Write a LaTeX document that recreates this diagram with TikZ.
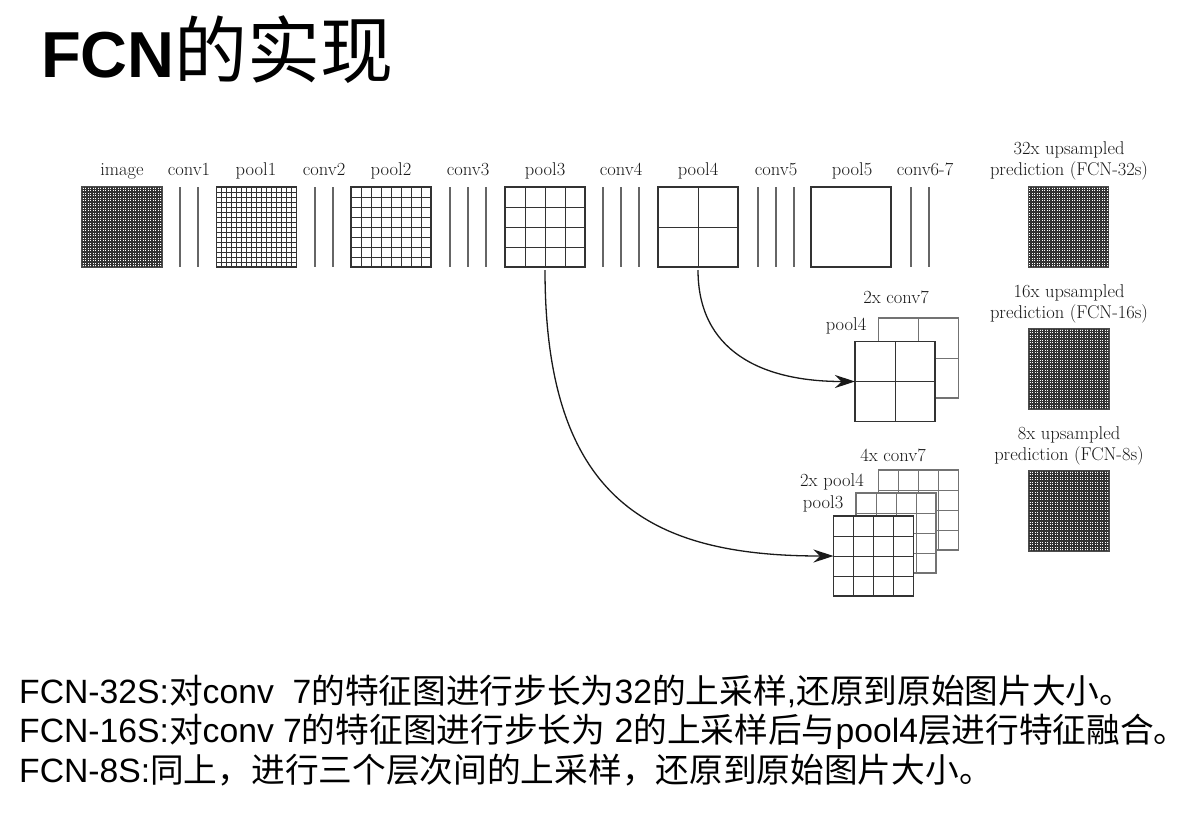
\documentclass[tikz,border=0pt]{standalone}
\usepackage{fontspec}
\newfontfamily\latn{Liberation Sans}
\newfontfamily\hanz{Noto Sans CJK SC}
\usetikzlibrary{calc,arrows.meta}
\newcommand\cells[3]{%
  \pgfmathtruncatemacro\cellsm{#2-1}%
  \foreach \k in {1,...,\cellsm}{%
    \draw[#3] ($(#1.north west)!\k/#2!(#1.north east)$) -- ($(#1.south west)!\k/#2!(#1.south east)$);
    \draw[#3] ($(#1.north west)!\k/#2!(#1.south west)$) -- ($(#1.north east)!\k/#2!(#1.south east)$);
  }}
\tikzset{
  fm/.style={draw=black!80, line width=1.2pt, fill=white, minimum size=80pt, inner sep=0pt, outer sep=0pt},
  bk/.style={fm, draw=black!55},
  dk/.style={fm, draw=black!70},
  gl/.style={black!80, line width=0.9pt},
  gb/.style={black!55, line width=0.9pt},
  dense/.style={black!80, line width=1.1pt},
  cl/.style={black!60, line width=1.3pt},
  lbl/.style={inner sep=0pt, anchor=base, text=black!90, font=\fontsize{18.5}{22}\selectfont},
  arr/.style={line width=1.3pt, black!90, -{Stealth[length=20pt,width=13pt]}},
  body/.style={inner sep=0pt, anchor=base west, font=\fontsize{33.7}{40}\selectfont},
}
\begin{document}
\begin{tikzpicture}[x=1pt,y=-1pt]
\useasboundingbox[fill=white] (0,0) rectangle (1198,817);

% title
\node[inner sep=0pt, anchor=base west] (title) at (41,77)
  {\fontsize{65}{70}\selectfont\latn\bfseries FCN{\mdseries\hanz\fontsize{73}{80}\selectfont 的实现}};

% top row boxes
\node[dk] (image) at (122,227) {};
\cells{image}{32}{dense}
\node[fm] (pool1) at (256.5,227) {};
\cells{pool1}{16}{gl}
\node[fm] (pool2) at (391,227) {};
\cells{pool2}{8}{gl}
\node[fm] (pool3) at (545,227) {};
\cells{pool3}{4}{gl}
\node[fm] (pool4) at (698,227) {};
\cells{pool4}{2}{gl}
\node[fm] (pool5) at (851,227) {};

% conv layers
\foreach \xx in {180,198,315,333,450,468,486,603,621,639,758,776,794,911,929}
  \draw[cl] (\xx,187) -- (\xx,267);

% top labels
\node[lbl] (limage) at (122,175) {image};
\node[lbl] (lconv1) at (189,175) {conv1};
\node[lbl] (lpool1) at (256,175) {pool1};
\node[lbl] (lconv2) at (324,175) {conv2};
\node[lbl] (lpool2) at (391,175) {pool2};
\node[lbl] (lconv3) at (468,175) {conv3};
\node[lbl] (lpool3) at (545,175) {pool3};
\node[lbl] (lconv4) at (621,175) {conv4};
\node[lbl] (lpool4) at (698,175) {pool4};
\node[lbl] (lconv5) at (776,175) {conv5};
\node[lbl] (lpool5) at (852,175) {pool5};
\node[lbl] (lconv67) at (925,175) {conv6-7};

% outputs
\node[lbl] (l32a) at (1069,154) {32x upsampled};
\node[lbl] (l32b) at (1069,175) {prediction (FCN-32s)};
\node[dk] (o32) at (1068.5,227) {};
\cells{o32}{32}{dense}

\node[lbl] (l16a) at (1069,297) {16x upsampled};
\node[lbl] (l16b) at (1069,318) {prediction (FCN-16s)};
\node[dk] (o16) at (1069,369) {};
\cells{o16}{32}{dense}

\node[lbl] (l8a) at (1069,439) {8x upsampled};
\node[lbl] (l8b) at (1069,460) {prediction (FCN-8s)};
\node[dk] (o8) at (1069,511) {};
\cells{o8}{32}{dense}

% FCN-16s fusion
\node[lbl] (l2c7) at (896,303) {2x conv7};
\node[lbl] (lp4) at (846,330) {pool4};
\node[bk] (c7a) at (918.5,358) {};
\cells{c7a}{2}{gb}
\node[fm] (c7b) at (895,381.5) {};
\cells{c7b}{2}{gl}

% FCN-8s fusion
\node[lbl] (l4c7) at (893,461) {4x conv7};
\node[lbl] (l2p4) at (832,486) {2x pool4};
\node[lbl] (lp3) at (823,508) {pool3};
\node[bk] (d3) at (918.5,510) {};
\cells{d3}{4}{gb}
\node[bk] (d2) at (896,533) {};
\cells{d2}{4}{gb}
\node[fm] (d1) at (873.5,556) {};
\cells{d1}{4}{gl}

% skip arrows
\draw[arr, shorten <=3pt] (pool4.south) .. controls (698,350) and (760,381.5) .. (c7b.west);
\draw[arr, shorten <=3pt] (pool3.south) .. controls (545,500) and (650,556) .. (d1.west);

% body text
\node[body] (t1) at (19,703) {\latn FCN-32S:{\hanz 对}conv\ \ 7{\hanz 的特征图进行步长为}32{\hanz 的上采样},{\hanz 还原到原始图片大小。}};
\node[body] (t2) at (19,742) {\latn FCN-16S:{\hanz 对}conv 7{\hanz 的特征图进行步长为} 2{\hanz 的上采样后与}pool4{\hanz 层进行特征融合。}};
\node[body] (t3) at (19,782) {\latn FCN-8S:{\hanz 同上，进行三个层次间的上采样，还原到原始图片大小。}};
\end{tikzpicture}
\end{document}
